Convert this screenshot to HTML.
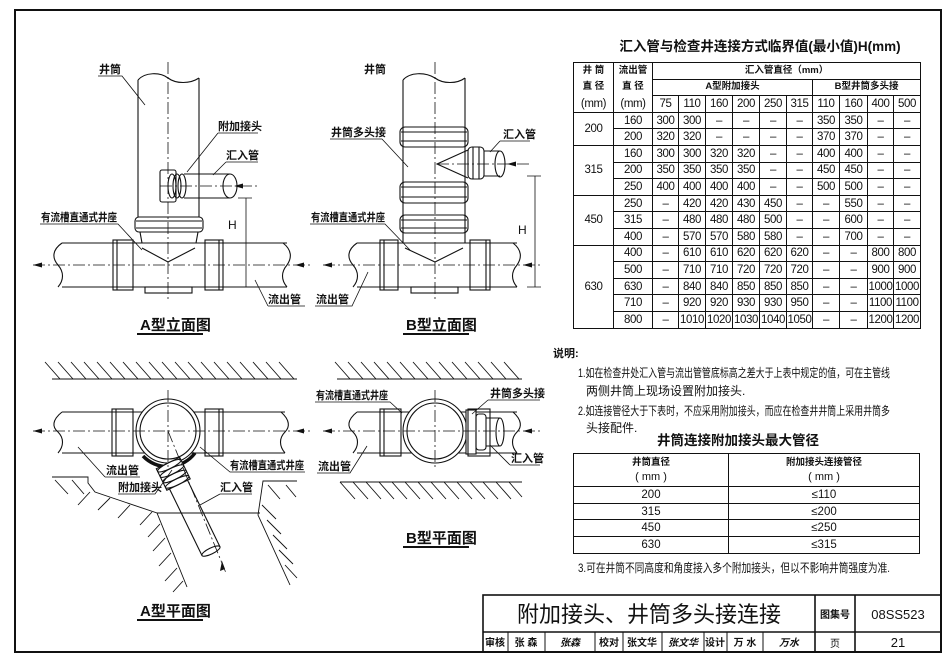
<!DOCTYPE html>
<html><head><meta charset="utf-8">
<style>
html,body{margin:0;padding:0;background:#fff;}
#wrap{position:relative;width:952px;height:663px;overflow:hidden;background:#fff;font-family:"Liberation Sans","Noto Sans CJK SC",sans-serif;}
svg{position:absolute;left:0;top:0;}
table.t1{position:absolute;left:573px;top:62px;width:347px;border-collapse:collapse;table-layout:fixed;font-size:11.5px;color:#111;}
.t1 td{border:1px solid #111;padding:0;text-align:center;height:15.6px;line-height:14px;white-space:nowrap;overflow:hidden;letter-spacing:-0.4px;}
.t1 .h{font-size:9.5px;font-weight:bold;letter-spacing:0}
.t1 tr.b td{border-top:1.6px solid #111}
table.t2{position:absolute;left:573px;top:453px;width:346px;border-collapse:collapse;table-layout:fixed;font-size:11.5px;color:#111;}
.t2 td{border:1px solid #111;padding:0;text-align:center;height:15.7px;line-height:14px;}
.t2 .h{font-size:9.5px;font-weight:bold;line-height:15px}
</style></head><body><div id="wrap">
<svg width="952" height="663" viewBox="0 0 952 663" font-family="Liberation Sans, Noto Sans CJK SC, sans-serif" fill="none" stroke="#111">
<rect x="15" y="10" width="926" height="642" stroke-width="2"/>
<!-- ===== A elevation ===== -->
<g stroke-width="1.1">
<path d="M138 80 C145 72,160 72,168 78 C176 84,190 84,199 78 M138 80 L138 217 M199 78 L199 217"/>
<rect x="135" y="217" width="68" height="15" rx="4"/><line x1="136" y1="221" x2="202" y2="221"/><line x1="136" y1="228" x2="202" y2="228"/>
<path d="M140 232 L142 243 M198 232 L196 243"/>
<path d="M62 243 L287 243 M62 287 L287 287"/>
<path d="M62 243 C52 250,52 258,58 265 C64 272,64 280,58 287"/>
<path d="M283 243 C292 250,292 258,287 265 C281 272,281 280,287 287"/>
<rect x="113" y="240" width="20" height="50"/><line x1="117" y1="240" x2="117" y2="290"/>
<rect x="205" y="240" width="18" height="50"/><line x1="219" y1="240" x2="219" y2="290"/>
<path d="M142 248 L168 262 L195 248"/>
<rect x="145" y="287" width="47" height="6"/>
<rect x="160" y="170" width="16" height="32" rx="2"/>
<ellipse cx="172" cy="186" rx="4" ry="12"/><ellipse cx="177" cy="186" rx="4" ry="12"/><ellipse cx="182" cy="186" rx="4" ry="12"/>
<path d="M184 174 L230 174 M184 198 L230 198"/><ellipse cx="230" cy="186" rx="7" ry="12"/>
</g>
<g stroke-width="0.8" stroke-dasharray="12 3 2 3">
<line x1="168" y1="62" x2="168" y2="300"/><line x1="33" y1="265" x2="310" y2="265"/><line x1="160" y1="186" x2="258" y2="186"/>
</g>
<g fill="#111" stroke="none"><path d="M33 265 l9 -2.5 v5z"/><path d="M295 265 l9 -2.5 v5z"/><path d="M234 186 l9 -2.5 v5z"/></g>
<g stroke-width="0.8">
<path d="M246 198 L246 287 M238 198 L252 198 M238 287 L252 287"/>
<path d="M98 76 L122 76 L145 105"/><path d="M218 133 L258 133 M218 133 L187 172"/><path d="M226 162 L258 162 M226 162 L213 175"/>
<path d="M40 224 L118 224 L142 250"/><path d="M268 306 L305 306 M268 306 L255 280"/>
<path d="M330 139 L382 139 L408 167"/><path d="M500 141 L530 141 M500 141 L490 152"/>
<path d="M310 224 L385 224 L410 250"/><path d="M315 306 L352 306 L368 272"/>
<path d="M535 176 L535 287 M527 176 L541 176 M527 287 L541 287"/>
</g>
<!-- ===== B elevation ===== -->
<g stroke-width="1.1">
<path d="M403 80 C410 72,425 72,435 78 C443 84,457 84,465 78 M403 80 L403 243 M465 78 L465 243"/>
<rect x="400" y="127" width="68" height="20" rx="5"/><line x1="401" y1="132" x2="467" y2="132"/><line x1="401" y1="141" x2="467" y2="141"/>
<rect x="400" y="182" width="68" height="21" rx="5"/><line x1="401" y1="187" x2="467" y2="187"/><line x1="401" y1="197" x2="467" y2="197"/>
<rect x="400" y="215" width="68" height="18" rx="5"/><line x1="401" y1="220" x2="467" y2="220"/><line x1="401" y1="228" x2="467" y2="228"/>
<path d="M357 243 L517 243 M357 287 L517 287"/>
<path d="M357 243 C347 250,347 258,353 265 C359 272,359 280,353 287"/>
<path d="M513 243 C522 250,522 258,517 265 C511 272,511 280,517 287"/>
<rect x="380" y="240" width="18" height="50"/><line x1="384" y1="240" x2="384" y2="290"/>
<rect x="470" y="240" width="20" height="50"/><line x1="486" y1="240" x2="486" y2="290"/>
<path d="M405 248 L435 262 L463 248"/>
<rect x="411" y="287" width="47" height="6"/>
<path d="M468 150 L437 164 L468 178"/>
<rect x="468" y="147" width="16" height="32" rx="4"/><line x1="473" y1="147" x2="473" y2="179"/><line x1="479" y1="147" x2="479" y2="179"/>
<path d="M484 151 L500 151 M484 176 L500 176"/><ellipse cx="500" cy="164" rx="5" ry="13"/>
</g>
<g stroke-width="0.8" stroke-dasharray="12 3 2 3">
<line x1="435" y1="62" x2="435" y2="300"/><line x1="323" y1="265" x2="540" y2="265"/><line x1="437" y1="164" x2="530" y2="164"/>
</g>
<g fill="#111" stroke="none"><path d="M323 265 l9 -2.5 v5z"/><path d="M523 265 l9 -2.5 v5z"/><path d="M507 164 l9 -2.5 v5z"/></g>
<!-- ===== A plan ===== -->
<g stroke-width="0.9">
<line x1="52" y1="379" x2="297" y2="379"/>
<path d="M45 362L60 379M58 362L73 379M71 362L86 379M84 362L99 379M97 362L112 379M110 362L125 379M123 362L138 379M136 362L151 379M149 362L164 379M162 362L177 379M175 362L190 379M188 362L203 379M201 362L216 379M214 362L229 379M227 362L242 379M240 362L255 379M253 362L268 379M266 362L281 379M279 362L294 379"/>
<path d="M52 477 L88 477 L88 483 L95 492 L157 513 L187 587 M157 513 L260 513 M297 481 L263 481 L258 515 L290 585"/>
<path d="M55 480L68 494M72 480L84 494M90 492L78 505M110 498L98 510M130 505L118 518M152 512L140 525M160 524L148 537M165 538L153 551M171 553L159 566M177 568L165 581M183 581L173 592M268 485L280 499M286 485L296 497M262 505L276 519M267 520L281 534M273 535L287 549M279 550L293 564M285 565L297 578"/>
</g>
<g stroke-width="1.1">
<path d="M62 412 L285 412 M62 453 L285 453"/>
<path d="M62 412 C52 420,52 427,58 432 C64 438,64 446,58 453"/>
<path d="M281 412 C290 420,290 427,285 432 C279 438,279 446,285 453"/>
<rect x="112" y="409" width="21" height="47"/><line x1="116" y1="409" x2="116" y2="456"/>
<rect x="205" y="409" width="18" height="47"/><line x1="219" y1="409" x2="219" y2="456"/>
<circle cx="168" cy="431" r="32" fill="#fff"/><circle cx="168" cy="431" r="28"/>
<path d="M143 456 A34 34 0 0 0 195 453" stroke-width="3.5"/>
<g transform="translate(168,463) rotate(64)">
<rect x="0" y="-13" width="24" height="26" fill="#fff"/>
<ellipse cx="3" cy="0" rx="3" ry="13"/><ellipse cx="9" cy="0" rx="3" ry="13"/><ellipse cx="15" cy="0" rx="3" ry="13"/><ellipse cx="21" cy="0" rx="3" ry="13"/>
<path d="M24 -10 L98 -10 M24 10 L98 10"/><ellipse cx="98" cy="0" rx="3" ry="10"/>
</g>
</g>
<g stroke-width="0.8" stroke-dasharray="12 3 2 3">
<line x1="168" y1="390" x2="168" y2="470"/><line x1="33" y1="431" x2="310" y2="431"/><line x1="168" y1="431" x2="226" y2="573"/>
</g>
<g fill="#111" stroke="none"><path d="M33 431 l9 -2.5 v5z"/><path d="M295 431 l9 -2.5 v5z"/><path d="M222 561 l-2 10 l5 -2z"/></g>
<g stroke-width="0.8">
<path d="M105 477 L140 477 M105 477 L78 447"/><path d="M230 472 L305 472 L230 472 L200 447"/>
<path d="M118 494 L155 494 L172 470"/><path d="M220 494 L252 494 M220 494 L200 505"/>
</g>
<!-- ===== B plan ===== -->
<g stroke-width="0.9">
<line x1="337" y1="379" x2="522" y2="379"/>
<path d="M335 362L350 379M348 362L363 379M361 362L376 379M374 362L389 379M387 362L402 379M400 362L415 379M413 362L428 379M426 362L441 379M439 362L454 379M452 362L467 379M465 362L480 379M478 362L493 379M491 362L506 379M504 362L519 379"/>
<line x1="340" y1="482" x2="522" y2="482"/>
<path d="M340 482L355 499M353 482L368 499M366 482L381 499M379 482L394 499M392 482L407 499M405 482L420 499M418 482L433 499M431 482L446 499M444 482L459 499M457 482L472 499M470 482L485 499M483 482L498 499M496 482L511 499M509 482L522 497"/>
</g>
<g stroke-width="1.1">
<path d="M357 412 L517 412 M357 453 L517 453"/>
<path d="M357 412 C347 420,347 427,353 432 C359 438,359 446,353 453"/>
<path d="M513 412 C522 420,522 427,517 432 C511 438,511 446,517 453"/>
<rect x="380" y="409" width="21" height="47"/><line x1="384" y1="409" x2="384" y2="456"/>
<circle cx="435" cy="431" r="32" fill="#fff"/><circle cx="435" cy="431" r="28"/>
<rect x="466" y="410" width="10" height="44" fill="#fff"/><rect x="476" y="414" width="10" height="36" rx="3"/>
<path d="M486 418 L500 418 M486 446 L500 446"/><ellipse cx="500" cy="432" rx="4" ry="14"/>
<rect x="468" y="409" width="22" height="47"/>
</g>
<g stroke-width="0.8" stroke-dasharray="12 3 2 3">
<line x1="435" y1="390" x2="435" y2="470"/><line x1="323" y1="431" x2="540" y2="431"/>
</g>
<g fill="#111" stroke="none"><path d="M323 431 l9 -2.5 v5z"/><path d="M523 431 l9 -2.5 v5z"/></g>
<g stroke-width="0.8">
<path d="M315 402 L390 402 L402 413"/><path d="M488 400 L540 400 M488 400 L472 414"/>
<path d="M317 473 L350 473 L367 446"/><path d="M510 465 L540 465 M510 465 L490 445"/>
</g>
<g fill="#111" stroke="none" font-size="11" font-weight="bold">
<text x="99" y="73">井筒</text><text x="218" y="130">附加接头</text><text x="226" y="159">汇入管</text>
<text x="41" y="221" textLength="76" lengthAdjust="spacingAndGlyphs">有流槽直通式井座</text>
<text x="268" y="303">流出管</text>
<text x="364" y="73">井筒</text><text x="331" y="136">井筒多头接</text><text x="503" y="138">汇入管</text>
<text x="311" y="221" textLength="74" lengthAdjust="spacingAndGlyphs">有流槽直通式井座</text>
<text x="316" y="303">流出管</text>
<text x="106" y="474">流出管</text><text x="230" y="469" textLength="74" lengthAdjust="spacingAndGlyphs">有流槽直通式井座</text>
<text x="118" y="491">附加接头</text><text x="220" y="491">汇入管</text>
<text x="316" y="399" textLength="72" lengthAdjust="spacingAndGlyphs">有流槽直通式井座</text>
<text x="490" y="397">井筒多头接</text>
<text x="318" y="470">流出管</text><text x="511" y="462">汇入管</text>
<text x="228" y="229" font-weight="normal" font-size="12">H</text><text x="518" y="234" font-weight="normal" font-size="12">H</text>
</g>
<g fill="#111" stroke="none" font-size="15" font-weight="bold">
<text x="140" y="330">A型立面图</text><text x="406" y="330">B型立面图</text>
<text x="140" y="616">A型平面图</text><text x="406" y="543">B型平面图</text>
</g>
<g stroke-width="2"><line x1="137" y1="334" x2="203" y2="334"/><line x1="403" y1="334" x2="469" y2="334"/><line x1="137" y1="620" x2="203" y2="620"/><line x1="403" y1="547" x2="469" y2="547"/></g>
<g fill="#111" stroke="none">
<text x="760" y="51" font-size="13.5" font-weight="bold" text-anchor="middle">汇入管与检查井连接方式临界值(最小值)H(mm)</text>
<text x="553" y="357" font-size="11" font-weight="bold">说明:</text>
<text x="578" y="377" font-size="12" textLength="312" lengthAdjust="spacingAndGlyphs">1.如在检查井处汇入管与流出管管底标高之差大于上表中规定的值，可在主管线</text>
<text x="586" y="395" font-size="12">两侧井筒上现场设置附加接头.</text>
<text x="578" y="415" font-size="12" textLength="312" lengthAdjust="spacingAndGlyphs">2.如连接管径大于下表时，不应采用附加接头，而应在检查井井筒上采用井筒多</text>
<text x="586" y="432" font-size="12">头接配件.</text>
<text x="738" y="445" font-size="13.5" font-weight="bold" text-anchor="middle">井筒连接附加接头最大管径</text>
<text x="578" y="572" font-size="12" textLength="312" lengthAdjust="spacingAndGlyphs">3.可在井筒不同高度和角度接入多个附加接头，但以不影响井筒强度为准.</text>
</g>
<g stroke-width="1.6">
<rect x="483" y="595" width="458" height="57"/>
<line x1="483" y1="632" x2="941" y2="632"/>
<line x1="815" y1="595" x2="815" y2="652"/><line x1="855" y1="595" x2="855" y2="652"/>
</g>
<g stroke-width="1"><line x1="508" y1="632" x2="508" y2="652"/><line x1="545" y1="632" x2="545" y2="652"/><line x1="595" y1="632" x2="595" y2="652"/><line x1="623" y1="632" x2="623" y2="652"/><line x1="662" y1="632" x2="662" y2="652"/><line x1="704" y1="632" x2="704" y2="652"/><line x1="727" y1="632" x2="727" y2="652"/><line x1="763" y1="632" x2="763" y2="652"/></g>
<g fill="#111" stroke="none">
<text x="649" y="622" font-size="22" text-anchor="middle">附加接头、井筒多头接连接</text>
<text x="835" y="618" font-size="10" font-weight="bold" text-anchor="middle">图集号</text>
<text x="898" y="619" font-size="13" text-anchor="middle">08SS523</text>
<text x="835" y="647" font-size="10" text-anchor="middle">页</text>
<text x="898" y="647" font-size="13" text-anchor="middle">21</text>
<g font-size="10" font-weight="bold" text-anchor="middle">
<text x="495" y="646">审核</text><text x="526" y="646">张 森</text><text x="570" y="646" font-style="italic">张森</text>
<text x="609" y="646">校对</text><text x="642" y="646">张文华</text><text x="683" y="646" font-style="italic">张文华</text>
<text x="715" y="646">设计</text><text x="745" y="646">万 水</text><text x="789" y="646" font-style="italic">万水</text>
</g></g>
</svg>
<table class="t1">
<colgroup><col style="width:40px"><col style="width:39px"><col style="width:26px"><col style="width:27px"><col style="width:27px"><col style="width:27px"><col style="width:27px"><col style="width:26px"><col style="width:27px"><col style="width:28px"><col style="width:26px"><col style="width:27px"></colgroup>
<tr><td class="h" style="border-bottom:none">井 筒</td><td class="h" style="border-bottom:none">流出管</td><td class="h" colspan="10">汇入管直径（mm）</td></tr>
<tr><td class="h" style="border-top:none;border-bottom:none">直 径</td><td class="h" style="border-top:none;border-bottom:none">直 径</td><td class="h" colspan="6">A型附加接头</td><td class="h" colspan="4">B型井筒多头接</td></tr>
<tr><td style="border-top:none">(mm)</td><td style="border-top:none">(mm)</td><td>75</td><td>110</td><td>160</td><td>200</td><td>250</td><td>315</td><td>110</td><td>160</td><td>400</td><td>500</td></tr>
<tr class="b"><td rowspan="2">200</td><td>160</td><td>300</td><td>300</td><td>–</td><td>–</td><td>–</td><td>–</td><td>350</td><td>350</td><td>–</td><td>–</td></tr>
<tr><td>200</td><td>320</td><td>320</td><td>–</td><td>–</td><td>–</td><td>–</td><td>370</td><td>370</td><td>–</td><td>–</td></tr>
<tr><td rowspan="3">315</td><td>160</td><td>300</td><td>300</td><td>320</td><td>320</td><td>–</td><td>–</td><td>400</td><td>400</td><td>–</td><td>–</td></tr>
<tr><td>200</td><td>350</td><td>350</td><td>350</td><td>350</td><td>–</td><td>–</td><td>450</td><td>450</td><td>–</td><td>–</td></tr>
<tr><td>250</td><td>400</td><td>400</td><td>400</td><td>400</td><td>–</td><td>–</td><td>500</td><td>500</td><td>–</td><td>–</td></tr>
<tr><td rowspan="3">450</td><td>250</td><td>–</td><td>420</td><td>420</td><td>430</td><td>450</td><td>–</td><td>–</td><td>550</td><td>–</td><td>–</td></tr>
<tr><td>315</td><td>–</td><td>480</td><td>480</td><td>480</td><td>500</td><td>–</td><td>–</td><td>600</td><td>–</td><td>–</td></tr>
<tr><td>400</td><td>–</td><td>570</td><td>570</td><td>580</td><td>580</td><td>–</td><td>–</td><td>700</td><td>–</td><td>–</td></tr>
<tr><td rowspan="5">630</td><td>400</td><td>–</td><td>610</td><td>610</td><td>620</td><td>620</td><td>620</td><td>–</td><td>–</td><td>800</td><td>800</td></tr>
<tr><td>500</td><td>–</td><td>710</td><td>710</td><td>720</td><td>720</td><td>720</td><td>–</td><td>–</td><td>900</td><td>900</td></tr>
<tr><td>630</td><td>–</td><td>840</td><td>840</td><td>850</td><td>850</td><td>850</td><td>–</td><td>–</td><td>1000</td><td>1000</td></tr>
<tr><td>710</td><td>–</td><td>920</td><td>920</td><td>930</td><td>930</td><td>950</td><td>–</td><td>–</td><td>1100</td><td>1100</td></tr>
<tr><td>800</td><td>–</td><td>1010</td><td>1020</td><td>1030</td><td>1040</td><td>1050</td><td>–</td><td>–</td><td>1200</td><td>1200</td></tr>
</table>
<table class="t2">
<colgroup><col style="width:155px"><col style="width:191px"></colgroup>
<tr><td class="h" style="height:32px">井筒直径<br><span style="font-weight:normal;font-size:11px">( mm )</span></td><td class="h" style="height:32px">附加接头连接管径<br><span style="font-weight:normal;font-size:11px">( mm )</span></td></tr>
<tr><td>200</td><td>≤110</td></tr>
<tr><td>315</td><td>≤200</td></tr>
<tr><td>450</td><td>≤250</td></tr>
<tr><td>630</td><td>≤315</td></tr>
</table>
</div></body></html>
